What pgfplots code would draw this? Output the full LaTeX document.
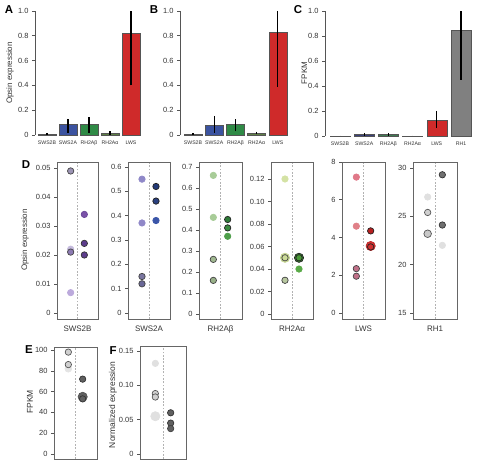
\documentclass[border=0pt]{standalone}
\usepackage{pgfplots}
\pgfplotsset{compat=1.18}
\usepackage{fontspec}
\setmainfont{Liberation Sans}
\definecolor{axg}{HTML}{555555}
\definecolor{boxg}{HTML}{666666}
\definecolor{labg}{HTML}{333333}
\definecolor{cSWSb}{HTML}{3A3A4A}
\definecolor{cSWSa}{HTML}{3B53A0}
\definecolor{cRHb}{HTML}{2F8A46}
\definecolor{cRHa}{HTML}{5E7F46}
\definecolor{cLWS}{HTML}{CF2A2A}
\definecolor{cRH1}{HTML}{808080}
\definecolor{cSWSaC}{HTML}{3A3F78}
\definecolor{cRHbC}{HTML}{3F7A52}
\newcommand{\hc}[1]{\definecolor{x#1}{HTML}{#1}}
\hc{9C94B4}\hc{C4BADC}\hc{8C7AB2}\hc{BCAADC}\hc{7A52A8}\hc{6A4898}\hc{5C3C8C}
\hc{444444}\hc{333333}\hc{222222}\hc{555555}
\hc{8F88C8}\hc{9088C8}\hc{7A76A0}\hc{6A6898}\hc{233A78}\hc{2A4080}\hc{3A55A8}
\hc{A8CC98}\hc{A0B890}\hc{98B088}\hc{2E7A38}\hc{3A8A40}\hc{4E9E4A}
\hc{D4E2A4}\hc{CCDC98}\hc{C4D490}\hc{B8C8A0}\hc{3A8A30}\hc{4A9A38}\hc{5AAA48}
\hc{E07888}\hc{E08088}\hc{C07088}\hc{B82020}\hc{D03030}\hc{BB2A2A}
\hc{E0E0E0}\hc{D0D0D0}\hc{C8C8C8}\hc{707070}\hc{E4E4E4}\hc{606060}

\newcommand{\dt}[5]{\addplot[only marks, mark=*, mark size=#4bp, mark options={fill=x#3, draw=x#5, line width=0.7bp}] coordinates {(#1,#2)};}
\newcommand{\br}[6]{\addplot[ybar, bar shift=0pt, bar width=#6bp, fill=#3, draw=axg, line width=0.4bp, error bars/.cd, y dir=both, y explicit, error mark=none, error bar style={line width=1.3bp, black}] coordinates {(#1,#2) += (0,#4) -= (0,#5)};}

\pgfplotsset{
 barax/.style={scale only axis, anchor=south west, ymin=0, ymax=1,
   axis lines=left, axis line style={-, draw=axg, line width=0.7bp},
   x axis line style={draw=none}, xtick style={draw=none},
   ytick={0,0.2,0.4,0.6,0.8,1}, yticklabels={0,0.2,0.4,0.6,0.8,1.0},
   scaled y ticks=false,
   tick align=outside, major tick length=3bp, ytick style={draw=axg, line width=0.6bp},
   yticklabel style={font=\fontsize{7.5}{8}\selectfont, text=labg},
   xticklabel style={font=\fontsize{5.2}{6}\selectfont, text=labg, yshift=1bp},
   clip=false},
 dotax/.style={scale only axis, anchor=south west, height=157bp, xmin=0, xmax=3,
   xtick={1.5}, xtick style={draw=none}, ytick pos=left, tick align=outside,
   scaled y ticks=false,
   major tick length=3bp, axis line style={draw=boxg, line width=0.8bp},
   ytick style={draw=axg, line width=0.6bp},
   yticklabel style={font=\fontsize{7.5}{8}\selectfont, text=labg},
   xticklabel style={font=\fontsize{8}{9}\selectfont, text=labg},
   xmajorgrids, grid style={dash pattern=on 1.8bp off 1.5bp, gray!60, line width=0.5bp},
   clip=false},
}

\begin{document}
\begin{tikzpicture}
\path[use as bounding box] (0,0) rectangle (477bp,460bp);

% ---------- A ----------
\begin{axis}[barax, at={(35bp,325bp)}, width=106bp, height=124bp, xmin=-0.571, xmax=4.48,
  xtick={0,1,2,3,4}, xticklabels={SWS2B,SWS2A,RH2Aβ,RH2Aα,LWS}]
\br{0}{0.008}{cSWSb}{0.006}{0.004}{18}
\br{1}{0.085}{cSWSa}{0.045}{0.065}{18}
\br{2}{0.085}{cRHb}{0.06}{0.065}{18}
\br{3}{0.012}{cRHa}{0.022}{0.012}{18}
\br{4}{0.82}{cLWS}{0.18}{0.42}{18}
\end{axis}

% ---------- B ----------
\begin{axis}[barax, at={(180bp,325bp)}, width=108bp, height=124bp, xmin=-0.613, xmax=4.48,
  xtick={0,1,2,3,4}, xticklabels={SWS2B,SWS2A,RH2Aβ,RH2Aα,LWS}]
\br{0}{0.008}{cSWSb}{0.005}{0.005}{18}
\br{1}{0.08}{cSWSa}{0.075}{0.06}{18}
\br{2}{0.085}{cRHb}{0.04}{0.055}{18}
\br{3}{0.015}{cRHa}{0.012}{0.01}{18}
\br{4}{0.825}{cLWS}{0.175}{0.435}{18}
\end{axis}

% ---------- C ----------
\begin{axis}[barax, at={(325bp,324bp)}, width=150bp, height=125bp, xmin=-0.62, xmax=5.58,
  xtick={0,1,2,3,4,5}, xticklabels={SWS2B,SWS2A,RH2Aβ,RH2Aα,LWS,RH1}]
\br{0}{0.002}{cSWSb}{0}{0}{20}
\br{1}{0.013}{cSWSaC}{0.012}{0.012}{20}
\br{2}{0.013}{cRHbC}{0.01}{0.01}{20}
\br{3}{0.002}{cSWSb}{0}{0}{20}
\br{4}{0.128}{cLWS}{0.072}{0.064}{20}
\br{5}{0.848}{cRH1}{0.152}{0.4}{20}
\end{axis}

% ---------- D1 SWS2B ----------
\begin{axis}[dotax, at={(57bp,141bp)}, width=41bp, ymin=-0.0021, ymax=0.0521,
  xticklabels={SWS2B}, ytick={0,0.01,0.02,0.03,0.04,0.05}, yticklabels={0,0.01,0.02,0.03,0.04,0.05}]
\dt{1}{0.049}{9C94B4}{3.2}{444444}
\dt{1}{0.022}{C4BADC}{3.2}{C4BADC}
\dt{1}{0.021}{8C7AB2}{3.2}{444444}
\dt{1}{0.007}{BCAADC}{3.2}{BCAADC}
\dt{2}{0.034}{7A52A8}{3.2}{6A4898}
\dt{2}{0.024}{5C3C8C}{3.2}{333333}
\dt{2}{0.020}{5C3C8C}{3.2}{333333}
\end{axis}

% ---------- D2 SWS2A ----------
\begin{axis}[dotax, at={(128bp,141bp)}, width=42bp, ymin=-0.0247, ymax=0.6206,
  xticklabels={SWS2A}, ytick={0,0.1,0.2,0.3,0.4,0.5,0.6}, yticklabels={0,0.1,0.2,0.3,0.4,0.5,0.6}]
\dt{1}{0.55}{8F88C8}{3.2}{8F88C8}
\dt{1}{0.37}{9088C8}{3.2}{9088C8}
\dt{1}{0.15}{7A76A0}{3.2}{444444}
\dt{1}{0.12}{6A6898}{3.2}{444444}
\dt{2}{0.52}{233A78}{3.2}{222222}
\dt{2}{0.46}{2A4080}{3.2}{222222}
\dt{2}{0.38}{3A55A8}{3.2}{3A55A8}
\end{axis}

% ---------- D3 RH2Abeta ----------
\begin{axis}[dotax, at={(199bp,141bp)}, width=43bp, ymin=-0.0238, ymax=0.7238,
  xticklabels={RH2Aβ}, ytick={0,0.1,0.2,0.3,0.4,0.5,0.6,0.7}, yticklabels={0,0.1,0.2,0.3,0.4,0.5,0.6,0.7}]
\dt{1}{0.66}{A8CC98}{3.2}{A8CC98}
\dt{1}{0.46}{A8CC98}{3.2}{A8CC98}
\dt{1}{0.26}{A0B890}{3.2}{444444}
\dt{1}{0.16}{98B088}{3.2}{444444}
\dt{2}{0.45}{2E7A38}{3.2}{222222}
\dt{2}{0.41}{3A8A40}{3.2}{222222}
\dt{2}{0.37}{4E9E4A}{3.2}{4E9E4A}
\end{axis}

% ---------- D4 RH2Aalpha ----------
\begin{axis}[dotax, at={(271bp,141bp)}, width=42bp, ymin=-0.0044, ymax=0.1351,
  xticklabels={RH2Aα}, ytick={0,0.02,0.04,0.06,0.08,0.1,0.12}, yticklabels={0,0.02,0.04,0.06,0.08,0.10,0.12}]
\dt{1}{0.12}{D4E2A4}{3.2}{D4E2A4}
\dt{1}{0.05}{CCDC98}{4.6}{C4D490}
\dt{1}{0.05}{CCDC98}{3.2}{444444}
\dt{1}{0.03}{B8C8A0}{3.2}{444444}
\dt{2}{0.05}{3A8A30}{4.6}{222222}
\dt{2}{0.05}{4A9A38}{3.2}{222222}
\dt{2}{0.04}{5AAA48}{3.2}{5AAA48}
\end{axis}

% ---------- D5 LWS ----------
\begin{axis}[dotax, at={(342bp,141bp)}, width=43bp, ymin=-0.318, ymax=8,
  xticklabels={LWS}, ytick={0,2,4,6,8}, yticklabels={0,2,4,6,8}]
\dt{1}{7.2}{E07888}{3.2}{E07888}
\dt{1}{4.6}{E08088}{3.2}{E08088}
\dt{1}{2.35}{C07088}{3.2}{444444}
\dt{1}{1.95}{C07088}{3.2}{444444}
\dt{2}{4.35}{B82020}{3.2}{222222}
\dt{2}{3.55}{D03030}{4.6}{BB2A2A}
\dt{2}{3.5}{D03030}{3.2}{222222}
\end{axis}

% ---------- D6 RH1 ----------
\begin{axis}[dotax, at={(413bp,141bp)}, width=44bp, ymin=14.38, ymax=30.62,
  xticklabels={RH1}, ytick={15,20,25,30}, yticklabels={15,20,25,30}]
\dt{1}{27}{E0E0E0}{3.2}{E0E0E0}
\dt{1}{25.4}{D0D0D0}{3.2}{555555}
\dt{1}{23.2}{C8C8C8}{3.8}{555555}
\dt{2}{29.3}{707070}{3.2}{333333}
\dt{2}{24.1}{707070}{3.2}{333333}
\dt{2}{22}{E0E0E0}{3.2}{E0E0E0}
\end{axis}

% ---------- E ----------
\begin{axis}[dotax, at={(54bp,1bp)}, width=43bp, height=112bp, ymin=-4.8, ymax=102.9,
  xticklabels={}, ytick={0,20,40,60,80,100}, yticklabels={0,20,40,60,80,100}]
\dt{1}{82}{E4E4E4}{3.4}{E4E4E4}
\dt{1}{98}{D0D0D0}{3.2}{555555}
\dt{1}{86}{D0D0D0}{3.2}{555555}
\dt{2}{72}{606060}{3.2}{333333}
\dt{2}{55}{606060}{4.6}{555555}
\dt{2}{53}{606060}{3.2}{333333}
\end{axis}

% ---------- F ----------
\begin{axis}[dotax, at={(140bp,1bp)}, width=46bp, height=113bp, ymin=-0.0073, ymax=0.1573,
  xticklabels={}, ytick={0,0.05,0.1,0.15}, yticklabels={0,0.05,0.10,0.15}]
\dt{1}{0.132}{E0E0E0}{3.2}{E0E0E0}
\dt{1}{0.088}{D0D0D0}{3.2}{555555}
\dt{1}{0.083}{D0D0D0}{3.2}{555555}
\dt{1}{0.055}{E0E0E0}{4.6}{E0E0E0}
\dt{2}{0.06}{606060}{3.2}{333333}
\dt{2}{0.045}{606060}{3.2}{333333}
\dt{2}{0.037}{606060}{3.2}{444444}
\end{axis}

% ---------- labels ----------
\begin{scope}[every node/.style={font=\fontsize{11.5}{13}\selectfont\bfseries, inner sep=0pt}]
\node at (9bp,450bp) {A};
\node at (154bp,450bp) {B};
\node at (298bp,450bp) {C};
\node at (26bp,295bp) {D};
\node at (29bp,110bp) {E};
\node at (113bp,109bp) {F};
\end{scope}
\begin{scope}[every node/.style={font=\fontsize{8}{9}\selectfont, text=labg, rotate=90, inner sep=0pt}]
\node at (10bp,387bp) {Opsin expression};
\node at (304.5bp,387bp) {FPKM};
\node at (25bp,220bp) {Opsin expression};
\node[font=\fontsize{8.5}{9}\selectfont] at (30bp,58bp) {FPKM};
\node[font=\fontsize{8.5}{9}\selectfont] at (113bp,55bp) {Normalized expression};
\end{scope}
\end{tikzpicture}
\end{document}
